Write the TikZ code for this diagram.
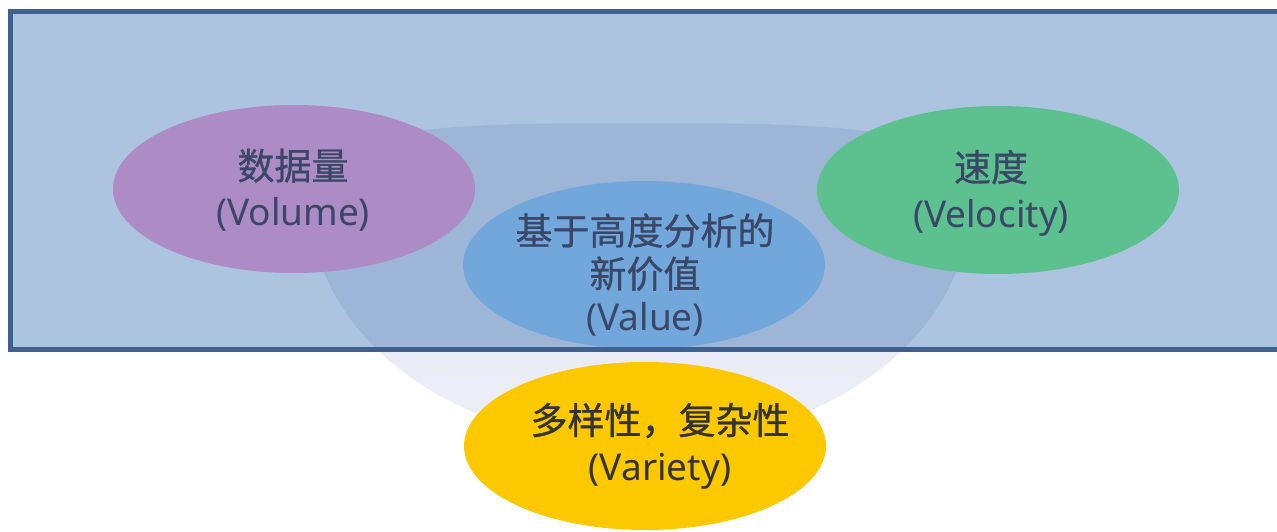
\documentclass[tikz,border=0pt]{standalone}
\usepackage{fontspec}
\setmainfont{Noto Sans}
\newfontfamily\cjk{Noto Sans CJK SC}[FakeBold=0.8]
\usetikzlibrary{shapes.geometric}
\definecolor{rectfill}{HTML}{ADC4E0}
\definecolor{rectline}{HTML}{3E6190}
\definecolor{bowlin}{HTML}{9DB6D8}
\definecolor{bowltop}{HTML}{DCE1F1}
\definecolor{bowlbot}{HTML}{EEF0F8}
\definecolor{cpurple}{HTML}{AD8BC5}
\definecolor{cgreen}{HTML}{5CC18F}
\definecolor{cblue}{HTML}{72A7DC}
\definecolor{cyellow}{HTML}{FCC800}
\definecolor{txtblue}{HTML}{3A4766}
\definecolor{txtdark}{HTML}{333333}
\tikzset{
  blob/.style={ellipse, draw=none, minimum width=362pt, minimum height=168pt, inner sep=0pt},
  lbl/.style={align=center, font=\fontsize{37}{46}\selectfont, text=txtblue, inner sep=0pt},
}
\begin{document}
\begin{tikzpicture}[x=1pt,y=-1pt]
\useasboundingbox (0,0) rectangle (1277,532);
% bowl (outside part)
\path[top color=bowltop, bottom color=bowlbot]
  (310,200) .. controls (310,128) and (420,123) .. (640,123)
  .. controls (860,123) and (970,128) .. (970,200)
  .. controls (970,340) and (820,445) .. (640,445)
  .. controls (460,445) and (310,340) .. (310,200) -- cycle;
% frame fill
\fill[rectfill] (10,11.5) rectangle (1285,349.5);
% bowl inside the frame
\begin{scope}
  \clip (10,11.5) rectangle (1285,349.5);
  \fill[bowlin]
  (310,200) .. controls (310,128) and (420,123) .. (640,123)
  .. controls (860,123) and (970,128) .. (970,200)
  .. controls (970,340) and (820,445) .. (640,445)
  .. controls (460,445) and (310,340) .. (310,200) -- cycle;
\end{scope}
% ellipses
\node[blob, fill=cpurple] (vol) at (294,189) {};
\node[blob, fill=cgreen]  (vel) at (998,190) {};
\node[blob, fill=cblue]   (val) at (644,265) {};
\node[blob, fill=cyellow] (var) at (645,446) {};
% frame border
\draw[rectline, line width=5pt] (1290,11.5) -- (10,11.5) -- (10,349.5) -- (1290,349.5);
% texts
\node[lbl] (tvol) at (293,190) {{\cjk 数据量}\\(Volume)};
\node[lbl] (tvel) at (991,193) {{\cjk 速度}\\(Velocity)};
\node[lbl, font=\fontsize{37}{43}\selectfont] (tval) at (645,275) {{\cjk 基于高度分析的}\\{\cjk 新价值}\\(Value)};
\node[lbl, text=txtdark] (tvar) at (660,446) {{\cjk 多样性，复杂性}\\(Variety)};
\end{tikzpicture}
\end{document}
